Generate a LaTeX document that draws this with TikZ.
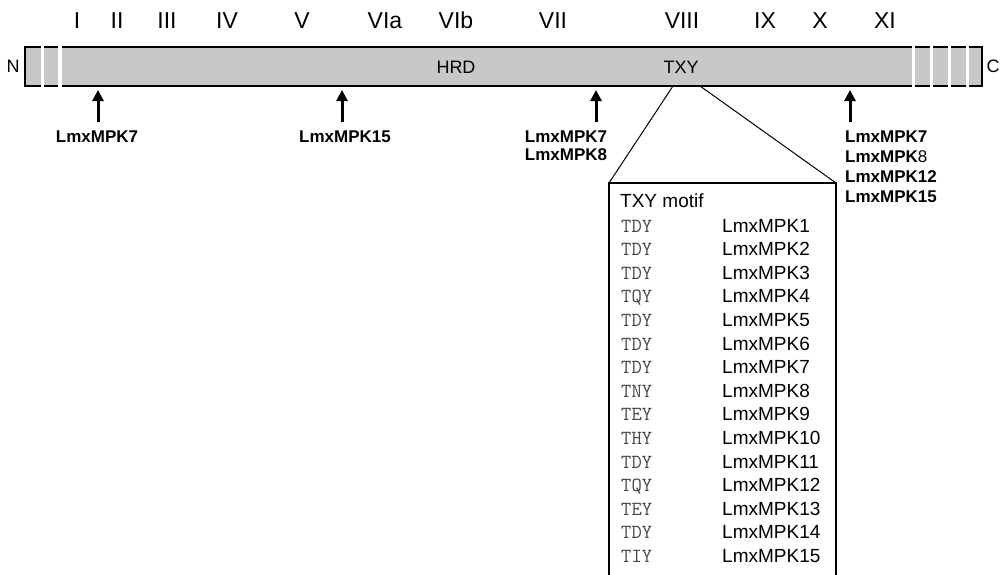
\documentclass[tikz,border=0pt]{standalone}
\usepackage{fontspec}
\setmainfont{Liberation Sans}
\usetikzlibrary{arrows.meta}
\definecolor{bargray}{RGB}{200,200,200}
\definecolor{motifgray}{RGB}{70,70,70}
\begin{document}
\begin{tikzpicture}[x=1pt,y=-1pt,
  numeral/.style={anchor=base,inner sep=0pt,font=\fontsize{23}{23}\selectfont},
  domainlabel/.style={anchor=base,inner sep=0pt,font=\fontsize{18}{18}\selectfont},
  kinase/.style={anchor=base,inner sep=0pt,font=\fontsize{17}{17}\selectfont\bfseries},
  kinasel/.style={kinase,anchor=base west},
  site/.style={line width=3pt,-{Triangle[width=11pt,length=11pt]}},
  edge/.style={line width=2pt},
  segline/.style={line width=1.6pt},
  zoomline/.style={line width=1pt},
  motif/.style={anchor=base west,inner sep=0pt,font=\fontsize{20}{20}\selectfont\ttfamily,text=motifgray},
  mpk/.style={anchor=base west,inner sep=0pt,font=\fontsize{19}{19}\selectfont}]
\useasboundingbox (0,0) rectangle (1004,574);

% subdomain numerals
\foreach \name/\x/\t in {n1/77/I,n2/117/II,n3/167/III,n4/227/IV,n5/302/V,
  n6a/385/VIa,n6b/456/VIb,n7/553/VII,n8/682/VIII,n9/765/IX,n10/820/X,n11/885/XI}
  \node[numeral] (\name) at (\x,28) {\t};

% kinase domain bar
\fill[bargray] (62,47) rectangle (912,86);
\draw[edge] (62,47) -- (912,47);
\draw[edge] (62,86) -- (912,86);
% N-terminal extension
\fill[bargray] (25,47) rectangle (41,86);
\fill[bargray] (44,47) rectangle (58,86);
\draw[segline] (41,47) -- (25,47) -- (25,86) -- (41,86);
\draw[segline] (44,47) -- (58,47) (44,86) -- (58,86);
% C-terminal extension
\foreach \a/\b in {915/930,933/948,951/966}{
  \fill[bargray] (\a,47) rectangle (\b,86);
  \draw[segline] (\a,47) -- (\b,47) (\a,86) -- (\b,86);
}
\fill[bargray] (969,47) rectangle (982,86);
\draw[segline] (969,47) -- (982,47) -- (982,86) -- (969,86);

\node[anchor=center,font=\fontsize{18}{18}\selectfont] (nterm) at (13,66) {N};
\node[anchor=center,font=\fontsize{18}{18}\selectfont] (cterm) at (993,66) {C};
\node[domainlabel] (hrd) at (456,73) {HRD};
\node[domainlabel] (txy) at (681,73) {TXY};

% docking sites
\coordinate (s1b) at (98,122);  \coordinate (s1t) at (98,90);
\coordinate (s2b) at (342,122); \coordinate (s2t) at (342,90);
\coordinate (s3b) at (596,122); \coordinate (s3t) at (596,90);
\coordinate (s4b) at (850,122); \coordinate (s4t) at (850,90);
\foreach \i in {1,2,3,4} \draw[site] (s\i b) -- (s\i t);

\node[kinase] (k1) at (97,142) {LmxMPK7};
\node[kinase] (k2) at (345,142) {LmxMPK15};
\node[kinase] (k3a) at (566,142) {LmxMPK7};
\node[kinase] (k3b) at (566,160) {LmxMPK8};
\node[kinasel] (k4a) at (845,142) {LmxMPK7};
\node[kinasel] (k4b) at (845,162) {LmxMPK{\mdseries 8}};
\node[kinasel] (k4c) at (845,182) {LmxMPK12};
\node[kinasel] (k4d) at (845,202) {LmxMPK15};

% magnified TXY motif panel
\coordinate (zl) at (673,86);
\coordinate (zr) at (700,86);
\coordinate (bl) at (609,183);
\coordinate (br) at (836,183);
\coordinate (bl2) at (609,576);
\coordinate (br2) at (836,576);
\draw[zoomline] (zl) -- (bl);
\draw[zoomline] (zr) -- (br);
\draw[line width=1.2pt] (bl2) -- (bl) -- (br) -- (br2);

\node[mpk] (head) at (620,207) {TXY motif};
\foreach \m [count=\i] in {TDY,TDY,TDY,TQY,TDY,TDY,TDY,TNY,TEY,THY,TDY,TQY,TEY,TDY,TIY}{
  \node[motif] (m\i) at (621,{232+23.6*(\i-1)}) {\m};
  \node[mpk] (p\i) at (722,{232+23.6*(\i-1)}) {LmxMPK\i};
}
\end{tikzpicture}
\end{document}
